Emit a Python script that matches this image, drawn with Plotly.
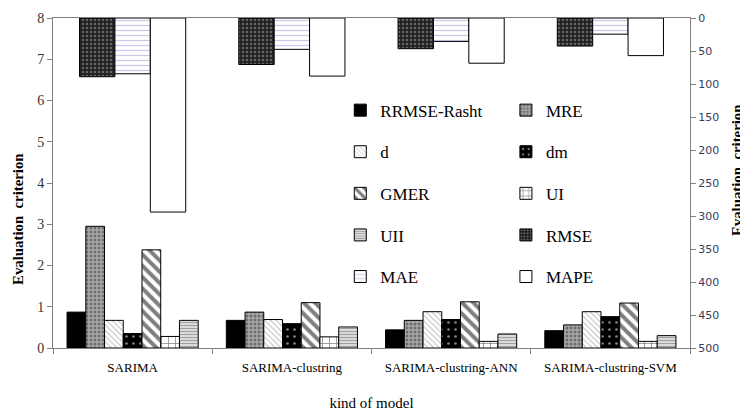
import plotly.graph_objects as go

categories = ["SARIMA", "SARIMA-clustring", "SARIMA-clustring-ANN", "SARIMA-clustring-SVM"]

# primary axis series
rrmse_rasht = [0.87, 0.67, 0.44, 0.42]
mre = [2.95, 0.87, 0.67, 0.56]
d_vals = [0.67, 0.69, 0.88, 0.88]
dm_vals = [0.35, 0.59, 0.69, 0.76]
gmer = [2.38, 1.10, 1.12, 1.09]
ui = [0.28, 0.27, 0.16, 0.16]
uii = [0.67, 0.51, 0.34, 0.30]

# secondary axis series (reversed axis)
rmse = [89, 70.5, 46.5, 42.5]
mae = [84.5, 47.5, 35.5, 24.5]
mape = [294, 88, 68.5, 57]

left_ticks = [0, 1, 2, 3, 4, 5, 6, 7, 8]
right_ticks = [0, 50, 100, 150, 200, 250, 300, 350, 400, 450, 500]

primary = [
    ("RRMSE-Rasht", rrmse_rasht, dict(color="black", pattern=dict(shape=""))),
    ("MRE", mre, dict(color="#9a9a9a", pattern=dict(shape=".", fgcolor="#333333", bgcolor="#a8a8a8", size=4, solidity=0.45))),
    ("d", d_vals, dict(color="white", pattern=dict(shape="\\", fgcolor="#777777", bgcolor="white", size=4, solidity=0.25))),
    ("dm", dm_vals, dict(color="black", pattern=dict(shape=".", fgcolor="white", bgcolor="black", size=7, solidity=0.12))),
    ("GMER", gmer, dict(color="white", pattern=dict(shape="\\", fgcolor="black", bgcolor="white", size=8, solidity=0.5))),
    ("UI", ui, dict(color="white", pattern=dict(shape="+", fgcolor="black", bgcolor="white", size=7, solidity=0.2))),
    ("UII", uii, dict(color="#888888", pattern=dict(shape="-", fgcolor="#444444", bgcolor="white", size=3, solidity=0.6))),
]
secondary = [
    ("RMSE", rmse, dict(color="#333333", pattern=dict(shape=".", fgcolor="#aaaaaa", bgcolor="#222222", size=4, solidity=0.3))),
    ("MAE", mae, dict(color="white", pattern=dict(shape="-", fgcolor="#9b8fcf", bgcolor="white", size=5, solidity=0.25))),
    ("MAPE", mape, dict(color="white", pattern=dict(shape=""))),
]

legend_map = {
    "RRMSE-Rasht": "legend", "d": "legend", "GMER": "legend", "UII": "legend", "MAE": "legend",
    "MRE": "legend2", "dm": "legend2", "UI": "legend2", "RMSE": "legend2", "MAPE": "legend2",
}

fig = go.Figure()

w1 = 1 / 8.5
for i, (name, vals, mk) in enumerate(primary):
    fig.add_trace(go.Bar(
        x=categories, y=vals, name=name, yaxis="y",
        width=w1, offset=-3.5 * w1 + i * w1,
        marker=dict(color=mk["color"], pattern=mk["pattern"], line=dict(color="black", width=1)),
        legend=legend_map[name], legendgroup=name,
    ))

w2 = 1 / 4.5
for i, (name, vals, mk) in enumerate(secondary):
    fig.add_trace(go.Bar(
        x=categories, y=vals, name=name, yaxis="y2",
        width=w2, offset=-1.5 * w2 + i * w2,
        marker=dict(color=mk["color"], pattern=mk["pattern"], line=dict(color="black", width=1)),
        legend=legend_map[name], legendgroup=name,
    ))

serif = "Liberation Serif"
leg_common = dict(
    bgcolor="rgba(0,0,0,0)", font=dict(family=serif, size=17, color="black"),
    traceorder="grouped", tracegroupgap=16.5, xanchor="left", yanchor="top",
    itemwidth=30,
)

title_text = "<b>Evaluation\u00a0 criterion</b>"

fig.update_layout(
    width=740, height=411,
    margin=dict(l=53, r=50, t=18, b=63, autoexpand=False),
    paper_bgcolor="white", plot_bgcolor="white",
    barmode="overlay",
    showlegend=True,
    legend=dict(x=0.451, y=0.774, **leg_common),
    legend2=dict(x=0.711, y=0.774, **leg_common),
    xaxis=dict(
        type="category", categoryorder="array", categoryarray=categories,
        automargin=False,
        showline=True, linecolor="#808080", linewidth=1, mirror=True,
        ticks="outside", tickson="boundaries", ticklen=5, tickcolor="#808080",
        ticklabelstandoff=7,
        tickfont=dict(family=serif, size=13, color="black"),
        title=dict(text="kind of model", font=dict(family=serif, size=15, color="black"), standoff=25),
        showgrid=False, zeroline=False,
    ),
    yaxis=dict(
        range=[0, 8], tickvals=left_ticks, automargin=False,
        showline=True, linecolor="#808080", linewidth=1,
        ticks="outside", ticklen=5, tickcolor="#808080",
        tickfont=dict(family=serif, size=14, color="#333333"),
        showgrid=False, zeroline=False,
    ),
    yaxis2=dict(
        overlaying="y", side="right", range=[500, 0], tickvals=right_ticks, automargin=False,
        showline=True, linecolor="#808080", linewidth=1,
        ticks="outside", ticklen=5, tickcolor="#808080",
        tickfont=dict(family="DejaVu Sans", size=11, color="#3a3a5a"),
        showgrid=False, zeroline=False,
    ),
    annotations=[
        dict(text=title_text, textangle=-90, xref="paper", yref="paper",
             x=-0.055, y=0.391, xanchor="center", yanchor="middle", showarrow=False,
             font=dict(family=serif, size=14.8, color="black")),
        dict(text=title_text, textangle=-90, xref="paper", yref="paper",
             x=1.058, y=0.539, xanchor="left", yanchor="middle", showarrow=False,
             font=dict(family=serif, size=14.8, color="black")),
    ],
)

fig.write_html("out.html", post_script="document.body.style.margin='0';",
               config={"displayModeBar": False})
